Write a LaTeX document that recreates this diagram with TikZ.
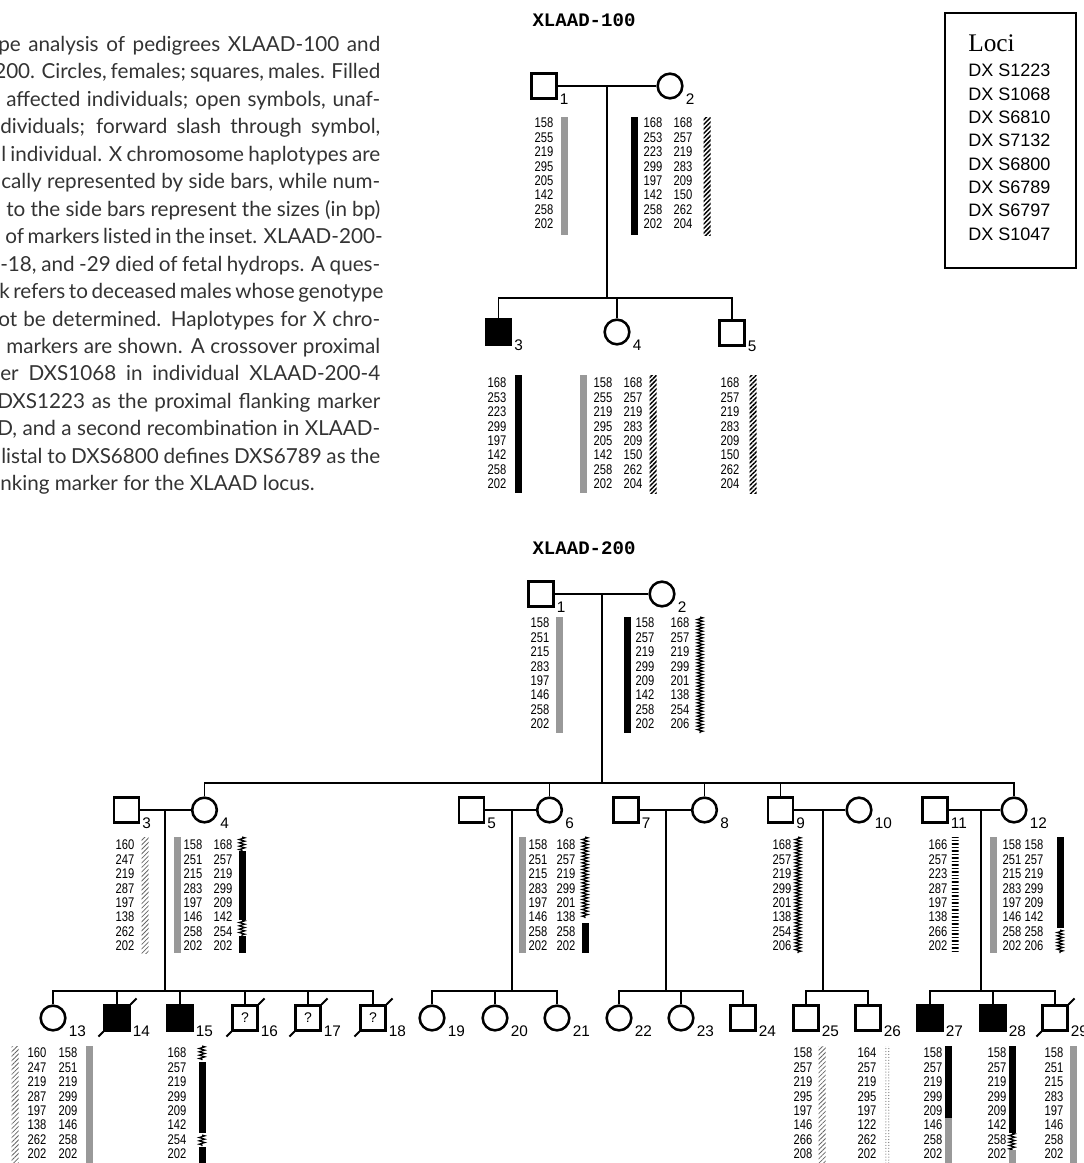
\documentclass[tikz,border=0pt]{standalone}
\usepackage{fontspec}
\setmainfont{Lato}
\newfontfamily\numfont{Liberation Sans}
\newfontfamily\hapfont[FakeStretch=0.8]{Liberation Sans}
\newfontfamily\titlefont{Liberation Mono}
\newfontfamily\locifont{Liberation Serif}
\usetikzlibrary{patterns,patterns.meta,decorations.pathmorphing}

% one column of marker sizes, one bar, one crossover bar
\newcommand{\hapcol}[3]{\foreach \v [count=\k from 0] in {#3}
  {\node[hapnum] (n#1-\k) at (#1,{#2+14.4*\k}) {\v};}}
\newcommand{\hapbar}[4]{\fill[#4] ({#1-3.5},#2) rectangle ({#1+3.5},#3);}
\newcommand{\hapchain}[3]{\draw[chain] (#1,#2) -- (#1,#3);}
\newcommand{\idl}[2]{\node[idlab] (l#1) at (#1.east |- #1.south) {#2};}
\newcommand{\dead}[1]{\draw[line width=1.5pt] (#1.south west) -- ++(-5,5);
  \draw[line width=1.5pt] (#1.north east) -- ++(6,-6);}

\tikzset{
  male/.style={draw, line width=1.9pt, minimum size=18.5pt, inner sep=0pt},
  female/.style={draw, circle, line width=1.9pt, minimum size=18.5pt, inner sep=0pt},
  aff/.style={fill=black},
  unk/.style={font=\numfont\fontsize{10.5}{11}\selectfont},
  idlab/.style={font=\numfont\fontsize{11.5}{12}\selectfont, anchor=base west,
    inner sep=0pt, xshift=1.5pt, yshift=-4pt},
  link/.style={line width=0.8pt},
  hapnum/.style={font=\hapfont\fontsize{10.5}{11}\selectfont, inner sep=0pt},
  greybar/.style={fill=black!40},
  blackbar/.style={fill=black},
  hatchdark/.style={pattern={Lines[angle=45,distance=2.4pt,line width=1.1pt]}},
  hatchlight/.style={pattern={Lines[angle=45,distance=2.4pt,line width=0.6pt]},
    pattern color=black!60},
  ladder/.style={pattern={Lines[angle=0,distance=2.6pt,line width=1.1pt]}},
  dotbar/.style={pattern={Dots[distance=2.2pt,radius=0.45pt]}, pattern color=black!55},
  chain/.style={decorate, decoration={zigzag, amplitude=2.2pt, segment length=2.5pt},
    line width=0.9pt},
  titl/.style={font=\titlefont\bfseries\fontsize{14.3}{16}\selectfont},
  locus/.style={font=\numfont\fontsize{13.5}{15}\selectfont, anchor=base west, inner sep=0pt},
  para/.style={font=\fontsize{15.5}{17}\selectfont, text=black!80, anchor=base west, inner sep=0pt}
}

\begin{document}
\begin{tikzpicture}[x=0.75pt,y=-0.75pt]
\useasboundingbox (0,0) rectangle (1084,1163);

% legend text
\node[para] (p1) at (-2,51.5) {\makebox[286.5pt][s]{pe analysis of pedigrees XLAAD-100 and}};
\node[para] (p2) at (-6,78.9) {\makebox[289.5pt][s]{200. Circles, females; squares, males. Filled}};
\node[para] (p3) at (6,106.4) {\makebox[280.5pt][s]{affected individuals; open symbols, unaf-}};
\node[para] (p4) at (0,133.8) {\makebox[285pt][s]{dividuals; forward slash through symbol,}};
\node[para] (p5) at (1,161.3) {\makebox[284.25pt][s]{l individual. X chromosome haplotypes are}};
\node[para] (p6) at (1,188.8) {\makebox[284.25pt][s]{cally represented by side bars, while num-}};
\node[para] (p7) at (6,216.2) {\makebox[280.5pt][s]{to the side bars represent the sizes (in bp)}};
\node[para] (p8) at (5,243.6) {\makebox[281.25pt][s]{of markers listed in the inset. XLAAD-200-}};
\node[para] (p9) at (0,271.1) {\makebox[285pt][s]{-18, and -29 died of fetal hydrops. A ques-}};
\node[para] (p10) at (-1,298.5) {\makebox[285.75pt][s]{k refers to deceased males whose genotype}};
\node[para] (p11) at (-2,326) {\makebox[286.5pt][s]{ot be determined. Haplotypes for X chro-}};
\node[para] (p12) at (6,353.5) {\makebox[280.5pt][s]{markers are shown. A crossover proximal}};
\node[para] (p13) at (0,380.9) {\makebox[285pt][s]{er DXS1068 in individual XLAAD-200-4}};
\node[para] (p14) at (-3,408.4) {\makebox[287.25pt][s]{DXS1223 as the proximal flanking marker}};
\node[para] (p15) at (-3,435.8) {\makebox[287.25pt][s]{D, and a second recombination in XLAAD-}};
\node[para] (p16) at (1,463.3) {\makebox[284.25pt][s]{listal to DXS6800 defines DXS6789 as the}};
\node[para] (p17) at (0,490.7) {nking marker for the XLAAD locus.};

% inset
\node[draw, line width=1pt, minimum width=98.25pt, minimum height=191.25pt, inner sep=0pt]
  (loci) at (1010.5,140.5) {};
\node[font=\locifont\fontsize{19}{20}\selectfont, anchor=base west, inner sep=0pt]
  (lochead) at (968,52) {Loci};
\foreach \m [count=\k from 0] in {1223,1068,6810,7132,6800,6789,6797,1047}
  \node[locus] (loc\k) at (968,{77+23.3*\k}) {DX S\m};

% XLAAD-100
\node[titl] (t100) at (584,20) {XLAAD-100};
\node[male] (a1) at (544,86) {};
\node[female] (a2) at (670,86) {};
\node[male,aff] (a3) at (498.5,332) {};
\node[female] (a4) at (617,332) {};
\node[male] (a5) at (732,333) {};
\coordinate (a12) at (607,86);
\coordinate (sa) at (607,298);
\draw[link] (a1) -- (a2);
\draw[link] (a12) -- (sa);
\draw[link] (a3.north) |- (sa) -| (a5.north);
\draw[link] (a4.north) -- (a4.north |- sa);
\idl{a1}{1} \idl{a2}{2} \idl{a3}{3} \idl{a4}{4} \idl{a5}{5}

\hapcol{544}{123}{158,255,219,295,205,142,258,202}
\hapbar{564}{117}{235}{greybar}
\hapbar{634}{117}{235}{blackbar}
\hapcol{653}{123}{168,253,223,299,197,142,258,202}
\hapcol{683}{123}{168,257,219,283,209,150,262,204}
\hapbar{707}{117}{235}{hatchdark}
\hapcol{497}{383}{168,253,223,299,197,142,258,202}
\hapbar{518}{375}{493}{blackbar}
\hapbar{583}{375}{493}{greybar}
\hapcol{603}{383}{158,255,219,295,205,142,258,202}
\hapcol{633}{383}{168,257,219,283,209,150,262,204}
\hapbar{653}{375}{493}{hatchdark}
\hapcol{730}{383}{168,257,219,283,209,150,262,204}
\hapbar{753}{375}{493}{hatchdark}

% XLAAD-200, generation I
\node[titl] (t200) at (584,548) {XLAAD-200};
\node[male] (b1) at (541,594) {};
\node[female] (b2) at (662,594) {};
\coordinate (b12) at (602,594);
\coordinate (sb) at (602,783);
\draw[link] (b1) -- (b2);
\draw[link] (b12) -- (sb);
\idl{b1}{1} \idl{b2}{2}

\hapcol{540}{623}{158,251,215,283,197,146,258,202}
\hapbar{559}{617}{733}{greybar}
\hapbar{627}{617}{733}{blackbar}
\hapcol{645}{623}{158,257,219,299,209,142,258,202}
\hapcol{680}{623}{168,257,219,299,201,138,254,206}
\hapchain{700}{617}{733}

% generation II
\node[male] (b3) at (126.5,810) {};
\node[female] (b4) at (204.5,810) {};
\node[male] (b5) at (471.5,810) {};
\node[female] (b6) at (549.5,810) {};
\node[male] (b7) at (626,810) {};
\node[female] (b8) at (704.5,810) {};
\node[male] (b9) at (780.5,810) {};
\node[female] (b10) at (859,810) {};
\node[male] (b11) at (935,810) {};
\node[female] (b12) at (1014,810) {};
\draw[link] (b4.north) |- (sb) -| (b12.north);
\foreach \c in {b6,b8,b9} \draw[link] (\c.north) -- (\c.north |- sb);
\foreach \h/\w in {b3/b4,b5/b6,b7/b8,b9/b10,b11/b12} \draw[link] (\h) -- (\w);
\idl{b3}{3} \idl{b4}{4} \idl{b5}{5} \idl{b6}{6} \idl{b7}{7}
\idl{b8}{8} \idl{b9}{9} \idl{b10}{10} \idl{b11}{11} \idl{b12}{12}

\hapcol{125}{845}{160,247,219,287,197,138,262,202}
\hapbar{145}{837}{953}{hatchlight}
\hapbar{177}{837}{953}{greybar}
\hapcol{193}{845}{158,251,215,283,197,146,258,202}
\hapcol{223}{845}{168,257,219,299,209,142,254,202}
\hapchain{242}{837}{851}
\hapbar{242}{851}{920}{blackbar}
\hapchain{242}{920}{936}
\hapbar{242}{936}{953}{blackbar}
\hapbar{522}{837}{953}{greybar}
\hapcol{538}{845}{158,251,215,283,197,146,258,202}
\hapcol{566}{845}{168,257,219,299,201,138,258,202}
\hapchain{585}{837}{918}
\hapbar{585}{923}{953}{blackbar}
\hapcol{782}{845}{168,257,219,299,201,138,254,206}
\hapchain{798}{837}{953}
\hapcol{938}{845}{166,257,223,287,197,138,266,202}
\hapbar{955}{837}{953}{ladder}
\hapbar{993}{837}{953}{greybar}
\hapcol{1012}{845}{158,251,215,283,197,146,258,202}
\hapcol{1034}{845}{158,257,219,299,209,142,258,206}
\hapbar{1060}{837}{928}{blackbar}
\hapchain{1060}{930}{953}

% generation III
\coordinate (m34) at (165,810);   \coordinate (s34) at (165,991);
\coordinate (m56) at (512,810);   \coordinate (s56) at (512,991);
\coordinate (m78) at (666,810);   \coordinate (s78) at (666,991);
\coordinate (m910) at (823,810);  \coordinate (s910) at (823,991);
\coordinate (m1112) at (981,810); \coordinate (s1112) at (981,991);
\foreach \m/\s in {m34/s34,m56/s56,m78/s78,m910/s910,m1112/s1112}
  \draw[link] (\m) -- (\s);

\node[female] (c13) at (53,1018) {};
\node[male,aff] (c14) at (117,1018) {};
\node[male,aff] (c15) at (180,1018) {};
\node[male,unk] (c16) at (245,1018) {?};
\node[male,unk] (c17) at (308,1018) {?};
\node[male,unk] (c18) at (373,1018) {?};
\node[female] (c19) at (432,1018) {};
\node[female] (c20) at (495,1018) {};
\node[female] (c21) at (557,1018) {};
\node[female] (c22) at (619,1018) {};
\node[female] (c23) at (681,1018) {};
\node[male] (c24) at (743,1018) {};
\node[male] (c25) at (806,1018) {};
\node[male] (c26) at (868,1018) {};
\node[male,aff] (c27) at (930,1018) {};
\node[male,aff] (c28) at (993,1018) {};
\node[male] (c29) at (1055,1018) {};
\draw[link] (c13.north) |- (s34) -| (c18.north);
\draw[link] (c19.north) |- (s56) -| (c21.north);
\draw[link] (c22.north) |- (s78) -| (c24.north);
\draw[link] (c25.north) |- (s910) -| (c26.north);
\draw[link] (c27.north) |- (s1112) -| (c29.north);
\foreach \c/\s in {c14/s34,c15/s34,c16/s34,c17/s34,c20/s56,c23/s78,c28/s1112}
  \draw[link] (\c.north) -- (\c.north |- \s);
\foreach \c in {c14,c16,c17,c18,c29} {\dead{\c}}
\foreach \n in {13,...,29} {\idl{c\n}{\n}}

\hapbar{15}{1046}{1170}{hatchlight}
\hapcol{37}{1053}{160,247,219,287,197,138,262,202}
\hapcol{68}{1053}{158,251,219,299,209,146,258,202}
\hapbar{89}{1046}{1170}{greybar}
\hapcol{177}{1053}{168,257,219,299,209,142,254,202}
\hapchain{202}{1046}{1060}
\hapbar{202}{1062}{1133}{blackbar}
\hapchain{202}{1135}{1146}
\hapbar{202}{1147}{1170}{blackbar}
\hapcol{803}{1053}{158,257,219,295,197,146,266,208}
\hapbar{822}{1046}{1170}{hatchlight}
\hapcol{867}{1053}{164,257,219,295,197,122,262,202}
\hapbar{887}{1046}{1170}{dotbar}
\hapcol{933}{1053}{158,257,219,299,209,146,258,202}
\hapbar{948}{1046}{1118}{blackbar}
\hapbar{948}{1118}{1170}{greybar}
\hapcol{997}{1053}{158,257,219,299,209,142,258,202}
\hapbar{1012}{1046}{1133}{blackbar}
\hapchain{1012}{1133}{1150}
\hapbar{1012}{1150}{1170}{greybar}
\hapcol{1054}{1053}{158,251,215,283,197,146,258,202}
\hapbar{1073}{1046}{1170}{greybar}
\end{tikzpicture}
\end{document}
